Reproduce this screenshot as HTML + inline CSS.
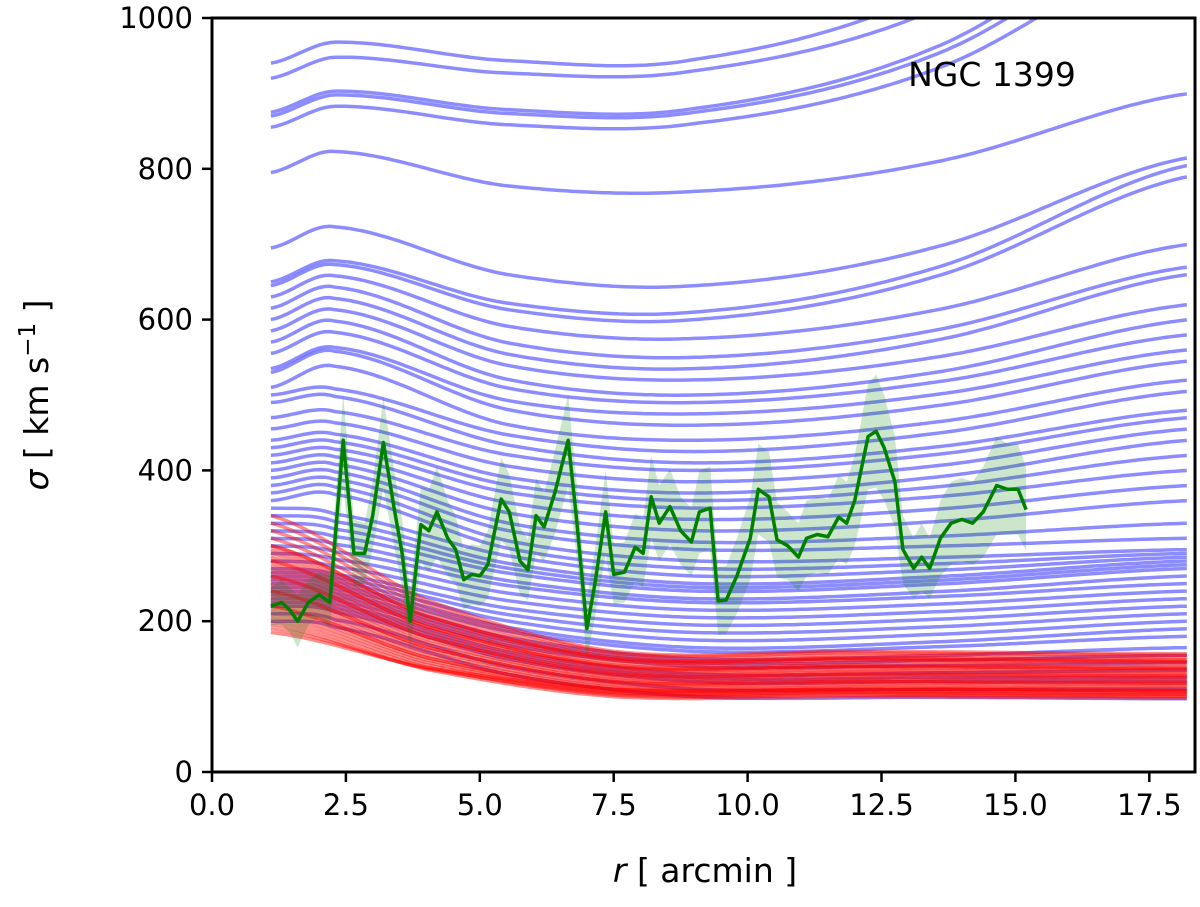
<!DOCTYPE html>
<html><head><meta charset="utf-8"><style>
body{margin:0;background:#fff}
svg{display:block;font-family:"DejaVu Sans","Liberation Sans",sans-serif}
</style></head><body>
<svg id="chart" width="1200" height="907" viewBox="0 0 1200 907" xmlns="http://www.w3.org/2000/svg">
<defs><clipPath id="clip"><rect x="212" y="18" width="983" height="754"/></clipPath></defs>
<g id="marks" clip-path="url(#clip)"></g>
<g id="axes"></g>
<text x="992" y="86" font-size="33" text-anchor="middle">NGC 1399</text>
<text x="705" y="882" font-size="33" text-anchor="middle"><tspan font-style="italic">r</tspan>  [ arcmin ]</text>
<text transform="translate(48,395) rotate(-90)" font-size="33" text-anchor="middle"><tspan font-style="italic">σ</tspan>  [ km s<tspan dy="-13" font-size="23">−1</tspan><tspan dy="13"> ]</tspan></text>
</svg>
<script>
const xTicks=[0,2.5,5,7.5,10,12.5,15,17.5];
const xTickLabels=["0.0","2.5","5.0","7.5","10.0","12.5","15.0","17.5"];
const yTicks=[0,200,400,600,800,1000];
const blueStart=[940,920,875,870,855,795,695,650,645,630,615,600,585,570,555,535,530,510,500,490,470,455,440,430,420,410,400,390,380,370,360,350,340,330,320,310,300,290,280,270,265,260,255,250,245,240,235,230,225,220,210,200];
const blueMin=[945,930,880,875,860,770,645,610,600,575,550,535,520,500,490,475,460,440,425,410,400,385,370,360,350,335,320,305,295,280,270,260,250,245,240,230,225,215,205,195,185,175,165,160,150,145,140,130,125,120,110,100];
const blueEnd=[1250,1200,1150,1130,1100,900,815,805,790,700,670,660,620,600,580,560,545,520,505,480,470,455,440,420,400,380,360,330,310,295,290,285,280,275,270,260,250,240,230,220,210,200,190,180,165,155,145,135,125,120,110,97];
const redStart=[340,330,320,310,300,295,290,285,280,275,270,265,260,255,250,245,240,235,230,225,220,215,210,205,200,195,190,185,300,280,260,240,220];
const redFlat=[160,158,155,152,150,148,145,142,140,138,135,133,130,128,125,123,120,118,115,113,110,108,106,104,102,100,105,110,150,140,130,120,110];
const greenR=[1.1,1.3,1.45,1.6,1.8,2.0,2.2,2.45,2.65,2.85,3.0,3.2,3.4,3.55,3.7,3.9,4.05,4.2,4.4,4.55,4.7,4.85,5.0,5.15,5.4,5.55,5.75,5.9,6.05,6.2,6.4,6.65,6.8,7.0,7.15,7.35,7.5,7.7,7.9,8.05,8.2,8.35,8.55,8.75,8.95,9.1,9.3,9.45,9.6,9.8,10.05,10.2,10.4,10.55,10.75,10.95,11.1,11.3,11.5,11.7,11.85,12.0,12.25,12.4,12.55,12.75,12.9,13.1,13.25,13.4,13.6,13.8,14.0,14.2,14.4,14.65,14.85,15.05,15.2];
const greenV=[220,225,215,200,225,235,225,440,290,290,340,437,350,290,200,328,320,345,310,295,255,262,260,275,362,345,280,268,340,325,370,440,340,190,250,345,262,265,298,290,365,330,352,320,305,345,350,227,228,260,310,375,365,308,300,285,310,315,312,338,330,360,445,452,430,385,295,270,285,270,310,330,335,330,345,380,375,375,348];
const greenErr=[25,30,30,35,30,30,35,60,45,40,45,60,50,45,40,50,55,60,50,45,40,40,40,45,55,50,45,40,50,45,55,60,50,40,45,55,40,40,45,45,55,50,50,45,45,55,55,45,45,50,55,60,60,50,45,45,50,50,50,55,55,60,70,75,70,60,45,40,45,40,50,55,55,55,60,65,60,60,55];

const X=r=>212+r*53.56, Y=v=>772-v*0.754;
const NS="http://www.w3.org/2000/svg";
const marks=document.getElementById('marks'), axes=document.getElementById('axes');
function mk(tag,attrs,parent){const e=document.createElementNS(NS,tag);for(const k in attrs)e.setAttribute(k,attrs[k]);parent.appendChild(e);return e;}
function cr(ks,vs,r){let i=0;while(i<ks.length-2&&r>ks[i+1])i++;
 const p0=vs[Math.max(i-1,0)],p1=vs[i],p2=vs[i+1],p3=vs[Math.min(i+2,vs.length-1)];
 const t=(r-ks[i])/(ks[i+1]-ks[i]);
 return 0.5*((2*p1)+(-p0+p2)*t+(2*p0-5*p1+4*p2-p3)*t*t+(-p0+3*p1-3*p2+p3)*t*t*t);}
function curvePath(ks,vs){let d="";for(let r=1.1;r<=18.26;r+=0.1){d+=(d?"L":"M")+X(r).toFixed(1)+","+Y(cr(ks,vs,r)).toFixed(1);}return d;}
blueStart.forEach((s,i)=>{const m=blueMin[i],e=blueEnd[i];
 const bump=s>500?28:(s>350?8:-8);
 const ks=[1.1,2.3,5.5,9,13.5,18.25];
 const vs=[s,s+bump,m+0.3*(s-m),m,m+0.3*(e-m),e];
 const p=mk('path',{d:curvePath(ks,vs),fill:'none',stroke:'rgba(0,0,255,0.45)','stroke-width':3.5},marks);
 
 });
redStart.forEach((s,i)=>{const f=redFlat[i];
 const ks=[1.1,4,7.5,12,18.25];
 const vs=[s,f+(s-f)*0.38,f,f,f*0.98];
 const p=mk('path',{d:curvePath(ks,vs),fill:'none',stroke:'rgba(255,0,0,0.45)','stroke-width':3.5},marks);
 
 });
let up="",lo="";greenR.forEach((r,i)=>{up+=(i?"L":"M")+X(r)+","+Y(greenV[i]+greenErr[i]);});
for(let i=greenR.length-1;i>=0;i--)lo+="L"+X(greenR[i])+","+Y(greenV[i]-greenErr[i]);
const band=mk('path',{d:up+lo+"Z",fill:'rgba(0,128,0,0.2)'},marks);


let gd="";greenR.forEach((r,i)=>{gd+=(i?"L":"M")+X(r)+","+Y(greenV[i]);});
const gl=mk('path',{d:gd,fill:'none',stroke:'#008000','stroke-width':3.5,'stroke-linejoin':'round'},marks);


const fr=mk('rect',{x:212,y:18,width:983,height:754,fill:'none',stroke:'#000','stroke-width':3},axes);


xTicks.forEach((t,i)=>{mk('line',{x1:X(t),x2:X(t),y1:772,y2:782,stroke:'#000','stroke-width':2.5},axes);
 const tx=mk('text',{x:X(t),y:815,'font-size':29,'text-anchor':'middle'},axes);tx.textContent=xTickLabels[i];
 
 });
yTicks.forEach(t=>{mk('line',{x1:202,x2:212,y1:Y(t),y2:Y(t),stroke:'#000','stroke-width':2.5},axes);
 const tx=mk('text',{x:193,y:Y(t)+10,'font-size':29,'text-anchor':'end'},axes);tx.textContent=t;
 
 });
</script>
</body></html>
